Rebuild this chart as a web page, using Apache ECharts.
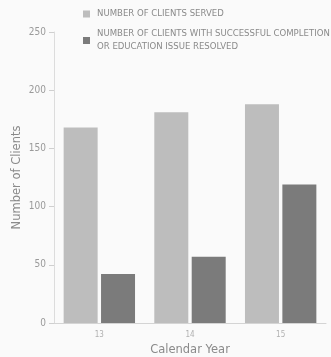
<!DOCTYPE html>
<html><head><meta charset="utf-8">
<script src="https://cdn.jsdelivr.net/npm/echarts@6/dist/echarts.min.js"></script>
<style>html,body{margin:0;padding:0;background:#fafafa}#c{width:331px;height:357px}</style>
</head><body><div id="c"></div>
<script>
const categories = ['13', '14', '15'];
const servedName = 'NUMBER OF CLIENTS SERVED';
const resolvedName = 'NUMBER OF CLIENTS WITH SUCCESSFUL COMPLETION\nOR EDUCATION ISSUE RESOLVED';
const served = [168, 181, 188];
const resolved = [42, 57, 119];
const yTicks = {min: 0, max: 250, interval: 50};

const chart = echarts.init(document.getElementById('c'));
const narrow = '"DejaVu Sans Condensed", "Roboto Condensed", sans-serif';
chart.setOption({
  backgroundColor: '#fafafa',
  animation: false,
  grid: {left: 54, right: 5, top: 32, bottom: 34, outerBoundsMode: 'none', containLabel: false},
  legend: [{
    data: [servedName], left: 83, top: 9, padding: 0, itemWidth: 7, itemHeight: 7,
    icon: 'rect',
    textStyle: {fontFamily: narrow, fontSize: 9.5, color: '#8a8a8a', padding: [0,0,0,2]}
  }, {
    data: [resolvedName], left: 83, top: 21, padding: 0, itemWidth: 7, itemHeight: 7,
    icon: 'rect',
    textStyle: {fontFamily: narrow, fontSize: 9.5, color: '#8a8a8a', lineHeight: 13, padding: [13,0,0,2]}
  }],
  xAxis: {
    type: 'category', data: categories,
    name: 'Calendar Year', nameLocation: 'middle', nameGap: 21, nameMoveOverlap: false,
    nameTextStyle: {fontFamily: 'DejaVu Sans', fontSize: 11.5, color: '#8a8a8a'},
    axisLine: {lineStyle: {color: '#d4d4d4'}},
    axisTick: {show: false},
    axisLabel: {fontFamily: narrow, fontSize: 8, color: '#b0b0b0', margin: 8}
  },
  yAxis: {
    type: 'value', min: yTicks.min, max: yTicks.max, interval: yTicks.interval,
    name: 'Number of Clients', nameLocation: 'middle', nameGap: 31, nameMoveOverlap: false,
    nameTextStyle: {fontFamily: 'DejaVu Sans', fontSize: 11.5, color: '#8a8a8a'},
    axisLine: {show: true, lineStyle: {color: '#dcdcdc'}},
    axisTick: {show: true, length: 5, lineStyle: {color: '#cfcfcf'}},
    axisLabel: {fontFamily: narrow, fontSize: 10, color: '#9a9a9a', margin: 8},
    splitLine: {show: false}
  },
  series: [{
    name: servedName, type: 'bar', data: served,
    barWidth: 34, barGap: '10%',
    itemStyle: {color: '#bdbdbd'}
  }, {
    name: resolvedName, type: 'bar', data: resolved,
    barWidth: 34,
    itemStyle: {color: '#7b7b7b'}
  }]
});
</script></body></html>
